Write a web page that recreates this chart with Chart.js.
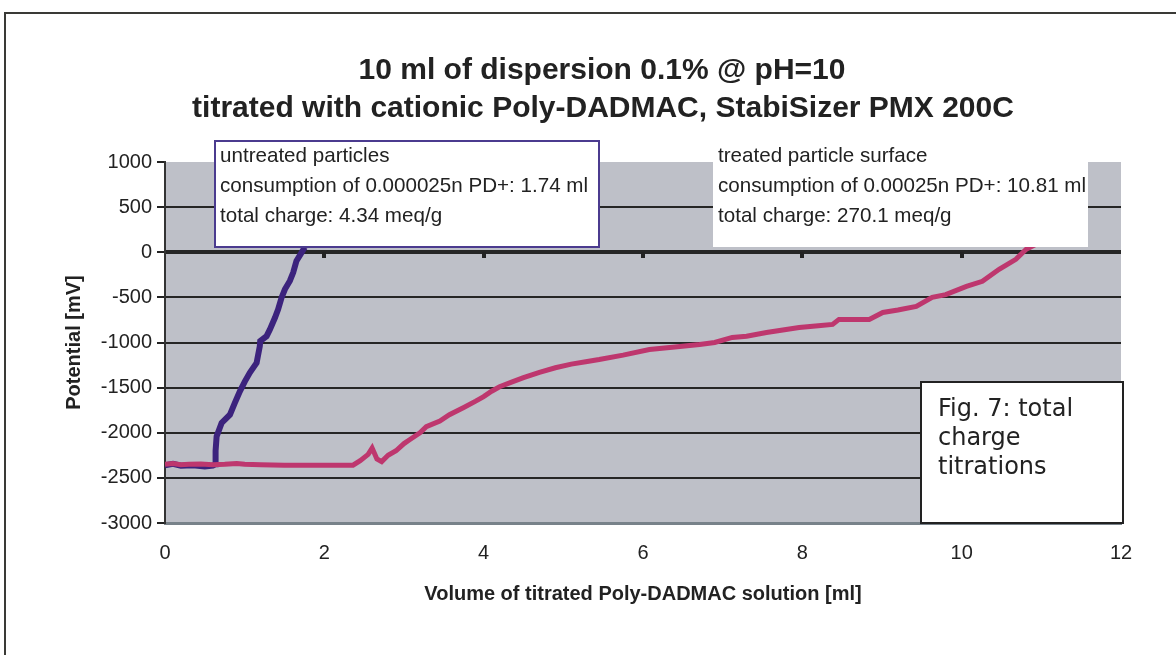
<!DOCTYPE html>
<html><head><meta charset="utf-8">
<script src="https://cdn.jsdelivr.net/npm/chart.js@4"></script>
<style>html,body{margin:0;padding:0;background:#fff}canvas{display:block}</style>
</head><body>
<canvas id="c" width="1176" height="655"></canvas>
<script>
const TITLE_LINES = ['10 ml of dispersion 0.1% @ pH=10', 'titrated with cationic Poly-DADMAC, StabiSizer PMX 200C'];
const X_TITLE = 'Volume of titrated Poly-DADMAC solution [ml]';
const Y_TITLE = 'Potential [mV]';
const X_TICKS = [0, 2, 4, 6, 8, 10, 12];
const Y_TICKS = [-3000, -2500, -2000, -1500, -1000, -500, 0, 500, 1000];

const UNTREATED_LABEL = 'untreated particles';
const UNTREATED_X = [0, 0.1, 0.2, 0.35, 0.5, 0.6, 0.63, 0.635, 0.648, 0.711, 0.815, 0.878, 0.94, 1.003, 1.066, 1.15, 1.19, 1.195, 1.275, 1.317, 1.38, 1.42, 1.463, 1.505, 1.567, 1.609, 1.65, 1.714, 1.755];
const UNTREATED_Y = [-2360, -2345, -2365, -2360, -2375, -2365, -2350, -2200, -2041, -1892, -1800, -1667, -1541, -1430, -1333, -1226, -1041, -985, -930, -855, -726, -633, -504, -411, -318, -226, -96, -4, 55];

const TREATED_LABEL = 'treated particle surface';
const TREATED_X = [0, 0.1, 0.2, 0.3, 0.45, 0.6, 0.75, 0.9, 1.0, 1.2, 1.5, 1.8, 2.1, 2.36, 2.45, 2.55, 2.6, 2.66, 2.72, 2.8, 2.9, 3.0, 3.07, 3.2, 3.28, 3.45, 3.57, 3.75, 3.9, 4.0, 4.1, 4.2, 4.35, 4.5, 4.7, 4.9, 5.1, 5.3, 5.45, 5.75, 6.08, 6.4, 6.71, 6.9, 7.12, 7.3, 7.55, 7.96, 8.2, 8.38, 8.46, 8.84, 9.01, 9.2, 9.43, 9.63, 9.8, 10.06, 10.26, 10.47, 10.68, 10.81, 11.0];
const TREATED_Y = [-2350, -2340, -2355, -2350, -2345, -2355, -2350, -2340, -2350, -2355, -2360, -2360, -2360, -2360, -2310, -2240, -2170, -2290, -2320, -2250, -2200, -2120, -2078, -2000, -1933, -1870, -1800, -1720, -1650, -1600, -1540, -1490, -1440, -1390, -1330, -1280, -1240, -1210, -1189, -1140, -1078, -1050, -1022, -1000, -944, -930, -889, -833, -815, -800, -744, -744, -667, -640, -600, -500, -470, -378, -322, -189, -78, 33, 120];

const NOTE_UNTREATED = ['untreated particles', 'consumption of 0.000025n PD+: 1.74 ml', 'total charge: 4.34 meq/g'];
const NOTE_TREATED = ['treated particle surface', 'consumption of 0.00025n PD+: 10.81 ml', 'total charge: 270.1 meq/g'];
const FIG_NOTE = ['Fig. 7: total', 'charge', 'titrations'];

const FONT = '"Liberation Sans", Arial, sans-serif';
const TEXT = '#222222';

const decor = {
  id: 'decor',
  beforeDraw(chart) {
    const ctx = chart.ctx, a = chart.chartArea;
    ctx.save();
    ctx.fillStyle = '#ffffff';
    ctx.fillRect(0, 0, chart.width, chart.height);
    ctx.fillStyle = '#bec0c8';
    ctx.fillRect(a.left, a.top, a.right - a.left, a.bottom - a.top);
    ctx.strokeStyle = '#3a3a36';
    ctx.lineWidth = 2;
    ctx.beginPath();
    ctx.moveTo(5, chart.height);
    ctx.lineTo(5, 13);
    ctx.lineTo(chart.width, 13);
    ctx.stroke();
    ctx.fillStyle = TEXT;
    ctx.font = 'bold 30px ' + FONT;
    ctx.textAlign = 'center';
    ctx.textBaseline = 'alphabetic';
    ctx.fillText(TITLE_LINES[0], 602, 79);
    ctx.fillText(TITLE_LINES[1], 603, 117);
    ctx.restore();
  },
  afterDraw(chart) {
    const ctx = chart.ctx, xs = chart.scales.x, ys = chart.scales.y;
    ctx.save();
    const y0 = ys.getPixelForValue(0);
    ctx.fillStyle = '#222';
    X_TICKS.forEach(v => {
      if (v <= 0 || v >= 12) return;
      const px = xs.getPixelForValue(v);
      ctx.fillRect(Math.round(px) - 2, Math.round(y0), 4, 6);
    });
    ctx.fillStyle = '#ffffff';
    ctx.fillRect(215, 141, 384, 106);
    ctx.strokeStyle = '#4b3b8f';
    ctx.lineWidth = 2;
    ctx.strokeRect(215, 141, 384, 106);
    ctx.fillStyle = '#ffffff';
    ctx.fillRect(713, 140, 375, 107);
    ctx.fillStyle = TEXT;
    ctx.font = '20.6px ' + FONT;
    ctx.textAlign = 'left';
    ctx.textBaseline = 'alphabetic';
    NOTE_UNTREATED.forEach((t, i) => ctx.fillText(t, 220, 162 + i * 30));
    NOTE_TREATED.forEach((t, i) => ctx.fillText(t, 718, 162 + i * 30));
    ctx.fillStyle = '#ffffff';
    ctx.fillRect(921, 382, 202, 141);
    ctx.strokeStyle = '#222';
    ctx.lineWidth = 2;
    ctx.strokeRect(921, 382, 202, 141);
    ctx.fillStyle = TEXT;
    ctx.font = '24px "DejaVu Sans", Verdana, sans-serif';
    FIG_NOTE.forEach((t, i) => ctx.fillText(t, 938, 416 + i * 29));
    ctx.restore();
  }
};

const toPts = (xa, ya) => xa.map((x, i) => ({x, y: ya[i]}));

new Chart(document.getElementById('c'), {
  type: 'line',
  data: {
    datasets: [
      {
        label: UNTREATED_LABEL,
        data: toPts(UNTREATED_X, UNTREATED_Y),
        borderColor: '#3c237d',
        backgroundColor: '#3c237d',
        borderWidth: 6,
        pointRadius: 0,
        tension: 0,
        order: 1
      },
      {
        label: TREATED_LABEL,
        data: toPts(TREATED_X, TREATED_Y),
        borderColor: '#be376e',
        backgroundColor: '#be376e',
        borderWidth: 5,
        pointRadius: 0,
        tension: 0,
        order: 0
      }
    ]
  },
  options: {
    responsive: false,
    animation: false,
    devicePixelRatio: 1,
    layout: { padding: { top: 162, left: 0, right: 55, bottom: 0 } },
    plugins: { legend: { display: false }, title: { display: false }, tooltip: { enabled: false } },
    scales: {
      x: {
        type: 'linear',
        min: 0, max: 12,
        afterBuildTicks: s => { s.ticks = X_TICKS.map(v => ({value: v})); },
        afterFit: s => { s.height = 132; },
        grid: { display: false, drawTicks: false },
        border: { display: true, color: '#78828a', width: 3 },
        ticks: { padding: 18, color: TEXT, font: { family: FONT, size: 20 }, callback: v => String(v) },
        title: { display: true, text: X_TITLE, color: TEXT, font: { family: FONT, size: 20, weight: 'bold' }, padding: { top: 0, bottom: 49 } }
      },
      y: {
        type: 'linear',
        min: -3000, max: 1000,
        afterBuildTicks: s => { s.ticks = Y_TICKS.map(v => ({value: v})); },
        afterFit: s => { s.width = 165; },
        grid: {
          drawOnChartArea: true,
          drawTicks: true,
          tickLength: 8,
          tickColor: '#222',
          tickWidth: 2,
          color: c => (c.tick && (c.tick.value === 1000)) ? 'rgba(0,0,0,0)' : (c.tick && c.tick.value === -3000 ? '#78828a' : '#262626'),
          lineWidth: c => (c.tick && c.tick.value === 0) ? 4 : 2
        },
        border: { display: true, color: '#333', width: 2 },
        ticks: { padding: 5, color: TEXT, font: { family: FONT, size: 20 }, callback: v => String(v) },
        title: { display: true, text: Y_TITLE, color: TEXT, font: { family: FONT, size: 20, weight: 'bold' }, padding: { top: 62, bottom: 0 } }
      }
    }
  },
  plugins: [decor]
});
</script>
</body></html>
